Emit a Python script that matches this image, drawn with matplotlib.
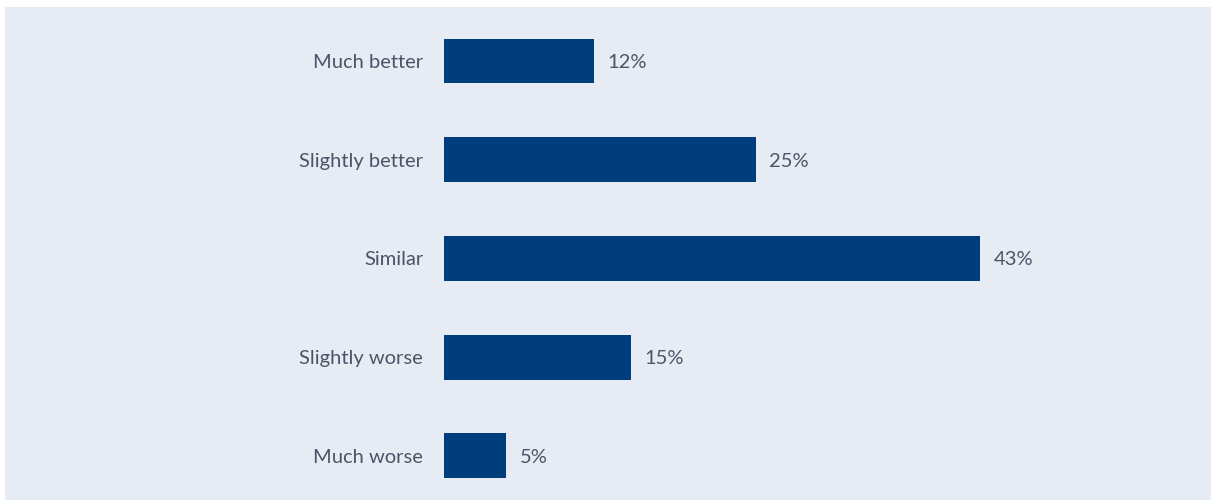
import matplotlib
matplotlib.use("Agg")
import matplotlib.pyplot as plt

categories = ["Much better", "Slightly better", "Similar", "Slightly worse", "Much worse"]
values = [12, 25, 43, 15, 5]

bar_color = "#003d7c"
bg_color = "#e7ecf4"
text_color = "#4a5568"

W, H = 1211, 500
fig = plt.figure(figsize=(W / 100, H / 100), dpi=100)
fig.patch.set_facecolor("white")

# light panel behind everything
bg = fig.add_axes([5 / W, 0, 1 - 5 / W, (H - 7) / H])
bg.set_facecolor(bg_color)
bg.set_xticks([])
bg.set_yticks([])
for s in bg.spines.values():
    s.set_visible(False)

# axes starts where the bars start
left = 444 / W
ax = fig.add_axes([left, 0, 1 - left, (H - 7) / H])
ax.set_facecolor("none")
ax.set_zorder(2)

pos = list(range(len(categories)))
ax.barh(pos, values, height=0.455, color=bar_color)

for p, v in zip(pos, values):
    ax.text(v + 1.1, p, f"{v}%", va="center_baseline", ha="left",
            fontsize=14.5, color=text_color, family="Lato")

ax.set_yticks(pos)
ax.set_yticklabels(categories, fontsize=14.5, color=text_color, family="Lato",
                   va="center_baseline")
ax.tick_params(axis="y", length=0, pad=15)
ax.set_xticks([])
ax.set_xlim(0, 767 / 12.47)
ax.set_ylim(4.446, -0.547)
for s in ax.spines.values():
    s.set_visible(False)

fig.savefig("out.png", dpi=100)
